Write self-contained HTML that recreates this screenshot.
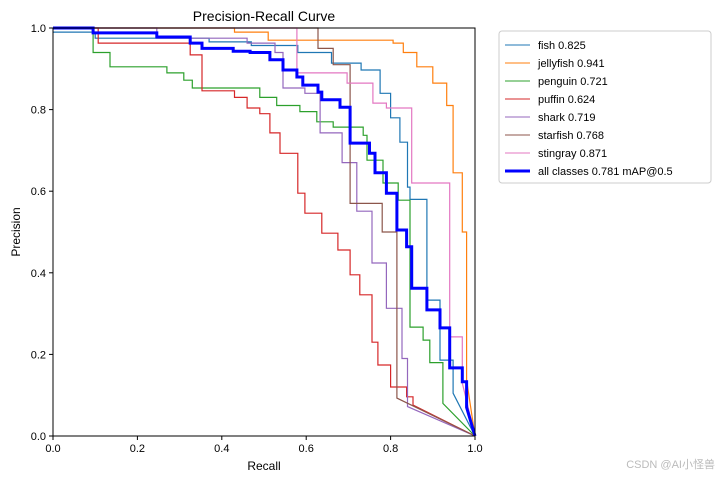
<!DOCTYPE html>
<html><head><meta charset="utf-8">
<style>
body{margin:0;background:#fff;}
svg{display:block;font-family:"Liberation Sans","DejaVu Sans",sans-serif;}
</style></head>
<body>
<svg id="chart" width="720" height="477" viewBox="0 0 720 477">
<rect width="720" height="477" fill="#fff"/>
<text x="264" y="21" font-size="14" text-anchor="middle">Precision-Recall Curve</text>
<g id="series"></g>
<rect x="53" y="28" width="422" height="408" fill="none" stroke="#000" stroke-width="1"/>
<g id="axes"></g>
<text x="264" y="470" font-size="12" text-anchor="middle">Recall</text>
<text x="20" y="232" font-size="12" text-anchor="middle" transform="rotate(-90 20 232)">Precision</text>
<g id="legend">
<rect x="499" y="31" width="212" height="152" rx="3" fill="#fff" stroke="#ccc"/>
</g>
<text x="715" y="468" font-size="11" fill="#bbb" text-anchor="end" font-family="Liberation Sans, Noto Sans CJK SC, sans-serif">CSDN @AI小怪兽</text>
</svg>
<script>
const seriesNames = ["fish 0.825","jellyfish 0.941","penguin 0.721","puffin 0.624","shark 0.719","starfish 0.768","stingray 0.871","all classes 0.781 mAP@0.5"];
const seriesColors = ["#1f77b4","#ff7f0e","#2ca02c","#d62728","#9467bd","#8c564b","#e377c2","#0000ff"];
const fishR = [0,0.1,0.1,0.37,0.47,0.58,0.66,0.73,0.775,0.80,0.822,0.84,0.846,0.886,0.917,0.948,1];
const fishP = [0.99,0.99,0.975,0.966,0.957,0.94,0.914,0.897,0.84,0.78,0.72,0.61,0.58,0.333,0.186,0.105,0];
const jellyR = [0,0.43,0.43,0.51,0.51,0.73,0.806,0.83,0.862,0.90,0.933,0.948,0.97,0.98,0.98,1];
const jellyP = [1,1,0.99,0.99,0.97,0.97,0.963,0.94,0.905,0.865,0.81,0.645,0.50,0.44,0.137,0];
const pengR = [0,0.095,0.095,0.135,0.135,0.27,0.31,0.33,0.49,0.53,0.585,0.625,0.664,0.735,0.744,0.782,0.818,0.846,0.877,0.893,0.924,1];
const pengP = [1,1,0.94,0.94,0.905,0.89,0.872,0.853,0.83,0.81,0.795,0.77,0.757,0.737,0.676,0.62,0.578,0.267,0.235,0.18,0.08,0];
const puffR = [0,0.107,0.107,0.325,0.325,0.353,0.353,0.43,0.46,0.49,0.514,0.538,0.58,0.597,0.637,0.675,0.704,0.727,0.756,0.77,0.80,0.838,0.853,1];
const puffP = [1,1,0.963,0.963,0.934,0.934,0.846,0.83,0.804,0.79,0.743,0.693,0.595,0.546,0.497,0.456,0.395,0.346,0.23,0.174,0.12,0.096,0.076,0];
const sharkR = [0,0.246,0.246,0.46,0.526,0.545,0.545,0.597,0.633,0.685,0.72,0.756,0.79,0.827,0.84,1];
const sharkP = [1,1,0.975,0.963,0.94,0.94,0.853,0.84,0.743,0.67,0.551,0.424,0.313,0.19,0.072,0];
const starR = [0,0.628,0.628,0.664,0.704,0.704,0.78,0.78,0.815,0.815,1];
const starP = [1,1,0.95,0.91,0.91,0.57,0.57,0.50,0.50,0.093,0];
const stingR = [0,0.578,0.578,0.697,0.758,0.79,0.85,0.85,0.94,0.94,0.97,1];
const stingP = [1,1,0.89,0.865,0.816,0.804,0.804,0.62,0.62,0.243,0.13,0];
const allR = [0,0.095,0.246,0.325,0.353,0.427,0.467,0.514,0.545,0.578,0.592,0.628,0.637,0.68,0.704,0.704,0.75,0.763,0.79,0.815,0.815,0.838,0.85,0.886,0.917,0.94,0.94,0.97,0.98,1];
const allP = [1,0.988,0.978,0.963,0.95,0.943,0.94,0.922,0.897,0.88,0.86,0.843,0.824,0.806,0.782,0.718,0.693,0.645,0.595,0.574,0.505,0.464,0.362,0.309,0.265,0.235,0.167,0.133,0.07,0];
const xTicks = [0,0.2,0.4,0.6,0.8,1.0];
const yTicks = [0,0.2,0.4,0.6,0.8,1.0];
const xTickLabels = ["0.0","0.2","0.4","0.6","0.8","1.0"];
const yTickLabels = ["0.0","0.2","0.4","0.6","0.8","1.0"];

const NS="http://www.w3.org/2000/svg";
const X0=53,X1=475,Y0=436,Y1=28;
function sx(v){return X0+v*(X1-X0);}
function sy(v){return Y0-v*(Y0-Y1);}
const seriesR=[fishR,jellyR,pengR,puffR,sharkR,starR,stingR,allR];
const seriesP=[fishP,jellyP,pengP,puffP,sharkP,starP,stingP,allP];
const slugs=["fish","jellyfish","penguin","puffin","shark","starfish","stingray","all-classes"];
const g=document.getElementById('series');
for(let i=0;i<seriesR.length;i++){
  const R=seriesR[i],P=seriesP[i],n=R.length;
  let pts=[[sx(R[0]),sy(P[0])]];
  for(let j=1;j<n;j++){
    if(j===n-1){pts.push([sx(R[j]),sy(P[j])]);}
    else{pts.push([sx(R[j]),sy(P[j-1])]);pts.push([sx(R[j]),sy(P[j])]);}
  }
  const pl=document.createElementNS(NS,'polyline');
  pl.setAttribute('points',pts.map(p=>p[0].toFixed(1)+','+p[1].toFixed(1)).join(' '));
  pl.setAttribute('fill','none');
  pl.setAttribute('stroke',seriesColors[i]);
  pl.setAttribute('stroke-width',i===7?3:1.2);
  
  
  g.appendChild(pl);
}
const ax=document.getElementById('axes');
xTicks.forEach((t,i)=>{
  const l=document.createElementNS(NS,'line');
  l.setAttribute('x1',sx(t));l.setAttribute('x2',sx(t));l.setAttribute('y1',Y0);l.setAttribute('y2',Y0+4);l.setAttribute('stroke','#000');
  
  
  ax.appendChild(l);
  const tx=document.createElementNS(NS,'text');
  tx.setAttribute('x',sx(t));tx.setAttribute('y',Y0+16);tx.setAttribute('font-size','11');tx.setAttribute('text-anchor','middle');
  tx.textContent=xTickLabels[i];
  
  
  ax.appendChild(tx);
});
yTicks.forEach((t,i)=>{
  const l=document.createElementNS(NS,'line');
  l.setAttribute('x1',X0-4);l.setAttribute('x2',X0);l.setAttribute('y1',sy(t));l.setAttribute('y2',sy(t));l.setAttribute('stroke','#000');
  
  
  ax.appendChild(l);
  const tx=document.createElementNS(NS,'text');
  tx.setAttribute('x',X0-7);tx.setAttribute('y',sy(t)+4);tx.setAttribute('font-size','11');tx.setAttribute('text-anchor','end');
  tx.textContent=yTickLabels[i];
  
  
  ax.appendChild(tx);
});
const lg=document.getElementById('legend');
seriesNames.forEach((n,i)=>{
  const y=45+i*18;
  const l=document.createElementNS(NS,'line');
  l.setAttribute('x1',505);l.setAttribute('x2',530);l.setAttribute('y1',y);l.setAttribute('y2',y);
  l.setAttribute('stroke',seriesColors[i]);l.setAttribute('stroke-width',i===7?3:1);
  
  
  lg.appendChild(l);
  const tx=document.createElementNS(NS,'text');
  tx.setAttribute('x',538);tx.setAttribute('y',y+4);tx.setAttribute('font-size','11');
  tx.textContent=n;
  
  
  lg.appendChild(tx);
});
</script>
</body></html>
